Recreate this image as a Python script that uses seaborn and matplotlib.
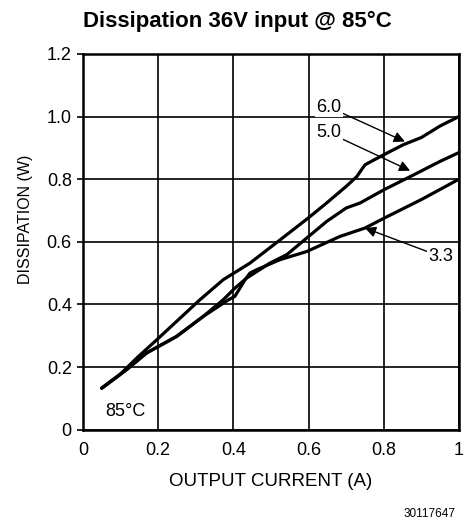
import matplotlib

matplotlib.use("Agg")

import matplotlib.pyplot as plt
import pandas as pd
import seaborn as sns

# output current (A) / dissipation (W) per output voltage
V60_X = [0.05, 0.098, 0.143, 0.196, 0.249, 0.311, 0.373, 0.444, 0.524, 0.598,
         0.648, 0.70, 0.728, 0.75, 0.80, 0.852, 0.90, 0.95, 1.0]
V60_Y = [0.133, 0.176, 0.229, 0.287, 0.346, 0.415, 0.479, 0.532, 0.606, 0.675,
         0.724, 0.777, 0.808, 0.846, 0.878, 0.91, 0.933, 0.97, 1.0]

V50_X = [0.05, 0.116, 0.169, 0.249, 0.32, 0.373, 0.404, 0.435, 0.497, 0.542,
         0.595, 0.648, 0.70, 0.737, 0.80, 0.87, 0.95, 1.0]
V50_Y = [0.133, 0.192, 0.245, 0.298, 0.362, 0.415, 0.452, 0.484, 0.532, 0.559,
         0.612, 0.665, 0.708, 0.724, 0.766, 0.808, 0.857, 0.885]

V33_X = [0.05, 0.116, 0.169, 0.249, 0.32, 0.387, 0.404, 0.431, 0.444, 0.462,
         0.524, 0.595, 0.683, 0.75, 0.80, 0.90, 1.0]
V33_Y = [0.133, 0.192, 0.245, 0.298, 0.362, 0.415, 0.426, 0.479, 0.50, 0.511,
         0.543, 0.569, 0.617, 0.644, 0.675, 0.735, 0.80]

X_TICKS = [0, 0.2, 0.4, 0.6, 0.8, 1.0]
X_TICK_LABELS = ["0", "0.2", "0.4", "0.6", "0.8", "1"]
Y_TICKS = [0, 0.2, 0.4, 0.6, 0.8, 1.0, 1.2]
Y_TICK_LABELS = ["0", "0.2", "0.4", "0.6", "0.8", "1.0", "1.2"]

# label text, label position, arrow tip
CALLOUTS = [
    ("6.0", (0.621, 1.03), (0.856, 0.92)),
    ("5.0", (0.621, 0.948), (0.87, 0.827)),
    ("3.3", (0.918, 0.553), (0.75, 0.644)),
]


def main():
    sns.set_theme(style="white")
    plt.rcParams["font.family"] = ["Liberation Sans", "DejaVu Sans"]
    plt.rcParams.update({
        "text.color": "black",
        "axes.labelcolor": "black",
        "xtick.color": "black",
        "ytick.color": "black",
    })

    curves = pd.concat([
        pd.DataFrame({"current": V60_X, "dissipation": V60_Y, "vout": "6.0"}),
        pd.DataFrame({"current": V50_X, "dissipation": V50_Y, "vout": "5.0"}),
        pd.DataFrame({"current": V33_X, "dissipation": V33_Y, "vout": "3.3"}),
    ])

    fig = plt.figure(figsize=(4.66, 5.28), dpi=100)
    ax = fig.add_axes([0.178, 0.186, 0.807, 0.712])

    for vout, grp in curves.groupby("vout", sort=False):
        sns.lineplot(data=grp, x="current", y="dissipation", sort=False,
                     color="black", linewidth=2.3, ax=ax, legend=False)

    ax.set_xlim(0, 1)
    ax.set_ylim(0, 1.2)
    ax.set_xticks(X_TICKS, X_TICK_LABELS, fontsize=13)
    ax.set_yticks(Y_TICKS, Y_TICK_LABELS, fontsize=13)
    ax.tick_params(axis="x", length=0, pad=9)
    ax.tick_params(axis="y", left=True, length=4, width=1.2, pad=4)
    ax.grid(True, color="black", linewidth=1.2)
    for spine in ax.spines.values():
        spine.set_color("black")
        spine.set_linewidth(1.8)

    ax.set_xlabel("OUTPUT CURRENT (A)", fontsize=13.5, labelpad=10)
    ax.set_ylabel("DISSIPATION (W)", fontsize=11.5)
    ax.yaxis.set_label_coords(-0.133, 0.56)

    for text, pos, tip in CALLOUTS:
        ax.annotate(text, xy=tip, xytext=pos, fontsize=13, ha="left", va="center",
                    bbox=dict(facecolor="white", edgecolor="none", pad=1.0),
                    arrowprops=dict(arrowstyle="-|>", color="black", lw=1.0,
                                    mutation_scale=16, shrinkA=0, shrinkB=0))

    ax.text(0.058, 0.059, "85°C", fontsize=13, ha="left", va="center")

    fig.text(0.509, 0.96, "Dissipation 36V input @ 85°C", fontsize=16,
             fontweight="bold", ha="center", va="center")
    fig.text(0.977, 0.027, "30117647", fontsize=8.5, ha="right", va="center")

    fig.savefig("out.png", dpi=100)


if __name__ == "__main__":
    main()
